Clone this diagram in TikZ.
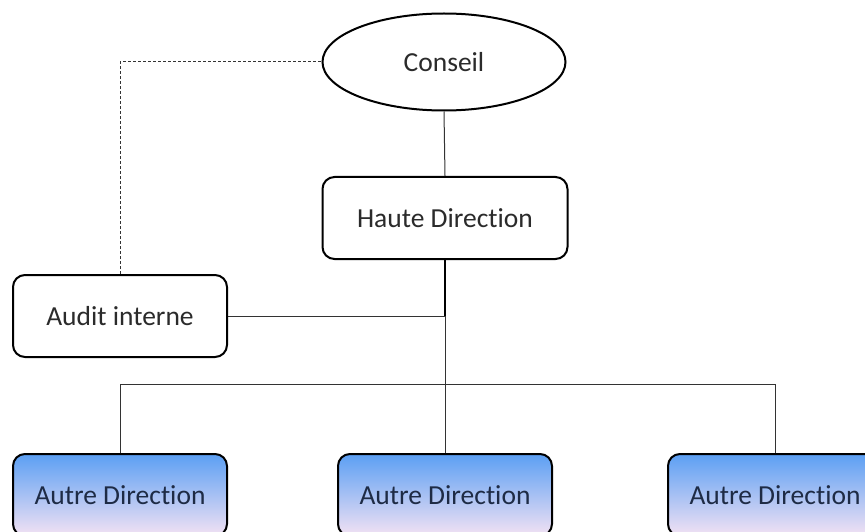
\documentclass[tikz,border=0pt]{standalone}
\usepackage{fontspec}
\setmainfont{Carlito}[RawFeature=-liga]
\usetikzlibrary{shapes.geometric}
\definecolor{topblue}{HTML}{5B9FF3}
\definecolor{botpink}{HTML}{F3E2F3}
\definecolor{txtgray}{HTML}{2B2B2B}
\definecolor{txtnavy}{HTML}{1E2B45}
\tikzset{
  lbl/.style={font=\fontsize{27.5}{32}\selectfont},
  rbox/.style={draw=black, line width=2pt, rounded corners=12pt, fill=white,
    minimum width=#1, minimum height=82pt, inner sep=0pt, lbl, text=txtgray},
  rbox/.default=214pt,
  bluebox/.style={rbox=214pt, top color=topblue, bottom color=botpink, text=txtnavy},
  conn/.style={draw=black!80, line width=1pt},
}
\begin{document}
\begin{tikzpicture}[x=1pt,y=-1pt]
\useasboundingbox (0,0) rectangle (865,532);
\clip (0,0) rectangle (865,532);
\node[ellipse, draw=black, line width=2pt, minimum width=243pt, minimum height=97pt, inner sep=0pt,
  lbl, text=txtgray] (conseil) at (444,62) {Conseil};
\node[rbox=245pt] (haute) at (445,218) {Haute Direction};
\node[rbox=214pt] (audit) at (120,316) {Audit interne};
\node[bluebox] (d1) at (120,495) {Autre Direction};
\node[bluebox] (d2) at (445,495) {Autre Direction};
\node[bluebox] (d3) at (775,495) {Autre Direction};
\coordinate (j1) at (445,316);
\coordinate (j2) at (445,384);
\draw[conn] (conseil.south) -- (haute.north);
\draw[draw=black, line width=2pt] (haute.south) -- (j1);
\draw[conn] (j1) -- (j2);
\draw[conn] (audit.east) -- (j1);
\draw[conn] (j2) -| (d1.north);
\draw[conn] (j2) -- (d2.north);
\draw[conn] (j2) -| (d3.north);
\draw[conn, dash pattern=on 3pt off 2pt] (audit.north) |- (conseil.west);
\end{tikzpicture}
\end{document}
